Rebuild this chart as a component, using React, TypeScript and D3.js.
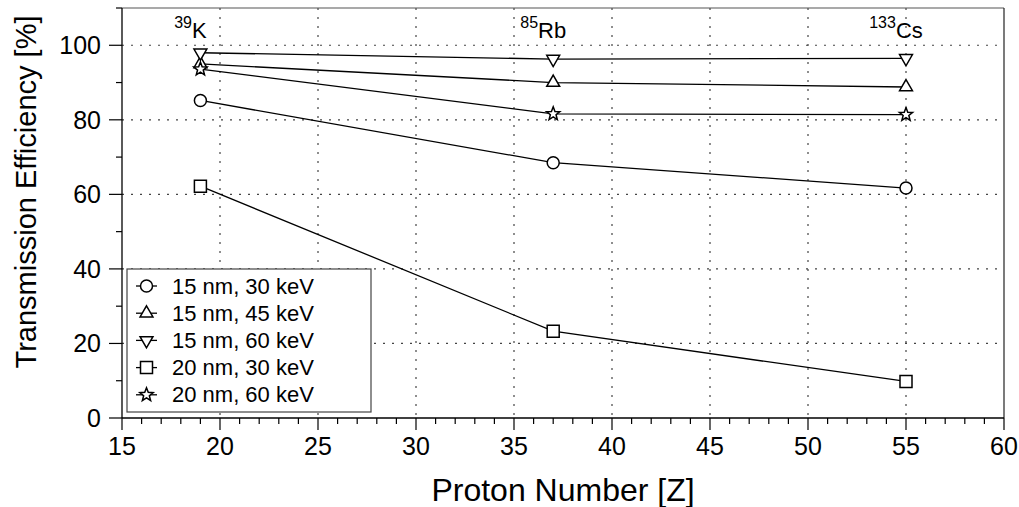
import React from 'react';
import * as d3 from 'd3';

const protonNumbers = [19, 37, 55];
const isotopeMass = ['39', '85', '133'];
const isotopeSymbol = ['K', 'Rb', 'Cs'];

const seriesNames = ['15 nm, 30 keV', '15 nm, 45 keV', '15 nm, 60 keV', '20 nm, 30 keV', '20 nm, 60 keV'];
const seriesMarkers = ['circle', 'triangleUp', 'triangleDown', 'square', 'star'];
const eff15nm30keV = [85.2, 68.5, 61.7];
const eff15nm45keV = [95.0, 90.0, 88.8];
const eff15nm60keV = [98.0, 96.3, 96.5];
const eff20nm30keV = [62.2, 23.3, 9.8];
const eff20nm60keV = [93.6, 81.6, 81.4];
const seriesValues = [eff15nm30keV, eff15nm45keV, eff15nm60keV, eff20nm30keV, eff20nm60keV];

const xTicks = [15, 20, 25, 30, 35, 40, 45, 50, 55, 60];
const xMinorTicks = d3.range(15, 61, 1);
const yTicks = [0, 20, 40, 60, 80, 100];
const yMinorTicks = d3.range(0, 111, 10);

const W = 1019, H = 507;
const L = 122, R = 1004, T = 8, B = 418;
const FONT = '"Liberation Sans", Arial, Helvetica, sans-serif';

const x = d3.scaleLinear().domain([15, 60]).range([L, R]);
const y = d3.scaleLinear().domain([0, 110]).range([B, T]);

function markerPath(kind: string): string {
  if (kind === 'circle') return d3.symbol(d3.symbolCircle, Math.PI * 36)()!;
  if (kind === 'square') return d3.symbol(d3.symbolSquare, 144)()!;
  if (kind === 'triangleUp' || kind === 'triangleDown') return d3.symbol(d3.symbolTriangle, 72)()!;
  const pts: [number, number][] = [];
  const ro = 7, ri = 3;
  for (let i = 0; i < 10; i++) {
    const a = -Math.PI / 2 + (i * Math.PI) / 5;
    const r = i % 2 === 0 ? ro : ri;
    pts.push([r * Math.cos(a), r * Math.sin(a)]);
  }
  return 'M' + pts.map(p => p[0].toFixed(2) + ',' + p[1].toFixed(2)).join('L') + 'Z';
}

function Marker({ kind, cx, cy }: { kind: string; cx: number; cy: number }) {
  const rot = kind === 'triangleDown' ? ' rotate(180)' : '';
  return (
    <path
      d={markerPath(kind)}
      transform={`translate(${cx},${cy})${rot}`}
      fill="white"
      stroke="black"
      strokeWidth={1.5}
    />
  );
}

export default function App() {
  const line = d3.line<number>().x((_, i) => x(protonNumbers[i])).y(v => y(v));
  const legendX = 127, legendY = 269, legendW = 244, legendH = 143;
  const rowY0 = 286, rowStep = 27.2;
  return (
    <svg width={W} height={H} style={{ position: 'absolute', left: 0, top: 0, background: 'white' }} fontFamily={FONT}>
      <rect x={0} y={0} width={W} height={H} fill="white" />
      {xTicks.filter(t => t > 15 && t < 60).map(t => (
        <line key={'gx' + t} x1={x(t)} x2={x(t)} y1={T} y2={B} stroke="#444" strokeWidth={1.2} strokeDasharray="2,7" />
      ))}
      {yTicks.filter(t => t > 0).map(t => (
        <line key={'gy' + t} x1={L} x2={R} y1={y(t)} y2={y(t)} stroke="#444" strokeWidth={1.2} strokeDasharray="2,7" />
      ))}
      <line x1={L} x2={R} y1={T} y2={T} stroke="#555" strokeWidth={1.2} />
      <line x1={R} x2={R} y1={T} y2={B} stroke="#222" strokeWidth={1.2} />
      {seriesValues.map((vals, si) => (
        <path key={'l' + si} d={line(vals)!} fill="none" stroke="black" strokeWidth={1.3} />
      ))}
      {seriesValues.map((vals, si) =>
        vals.map((v, i) => <Marker key={'m' + si + '-' + i} kind={seriesMarkers[si]} cx={x(protonNumbers[i])} cy={y(v)} />)
      )}
      <rect x={legendX} y={legendY} width={legendW} height={legendH} fill="white" stroke="#444" strokeWidth={1.2} />
      {seriesNames.map((name, i) => {
        const ry = rowY0 + i * rowStep;
        return (
          <g key={'lg' + i}>
            <line x1={136} x2={157} y1={ry} y2={ry} stroke="black" strokeWidth={1.3} />
            <Marker kind={seriesMarkers[i]} cx={146.5} cy={ry} />
            <text x={172} y={ry + 7.5} fontSize={22} fill="black">{name}</text>
          </g>
        );
      })}
      <line x1={L} x2={R} y1={B} y2={B} stroke="black" strokeWidth={1.3} />
      <line x1={L} x2={L} y1={T} y2={B} stroke="black" strokeWidth={1.3} />
      {xMinorTicks.map(t => {
        const major = xTicks.includes(t);
        return <line key={'xt' + t} x1={x(t)} x2={x(t)} y1={B} y2={B + (major ? 12 : 6)} stroke="black" strokeWidth={1.2} />;
      })}
      {yMinorTicks.map(t => {
        const major = yTicks.includes(t);
        return <line key={'yt' + t} x1={L} x2={L - (major ? 13 : 6)} y1={y(t)} y2={y(t)} stroke="black" strokeWidth={1.2} />;
      })}
      {xTicks.map(t => (
        <text key={'xl' + t} x={x(t)} y={455} textAnchor="middle" fontSize={25} fill="black">{t}</text>
      ))}
      {yTicks.map(t => (
        <text key={'yl' + t} x={101} y={y(t) + 9} textAnchor="end" fontSize={25} fill="black">{t}</text>
      ))}
      <text x={(L + R) / 2} y={501} textAnchor="middle" fontSize={32} fill="black">Proton Number [Z]</text>
      <text transform={`translate(36,${(T + B) / 2 - 21}) rotate(-90)`} textAnchor="middle" fontSize={29} fill="black">
        Transmission Efficiency [%]
      </text>
      {protonNumbers.map((z, i) => (
        <text key={'iso' + i} x={x(z) - 10} y={38} textAnchor="middle" fill="black">
          <tspan fontSize={16} dy={-10}>{isotopeMass[i]}</tspan>
          <tspan fontSize={22} dy={10}>{isotopeSymbol[i]}</tspan>
        </text>
      ))}
    </svg>
  );
}
